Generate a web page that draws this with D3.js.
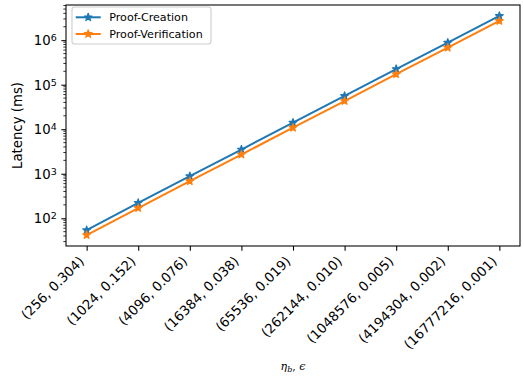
<!DOCTYPE html>
<html>
<head>
<meta charset="utf-8">
<script src="https://cdn.jsdelivr.net/npm/d3@7"></script>
<style>
body { margin:0; background:#fff; }
text { font-family: "DejaVu Sans", sans-serif; fill:#000; }
</style>
</head>
<body>
<div id="chart"></div>
<script>
// 横軸のカテゴリ (n_b, epsilon)
var categories = ["(256, 0.304)", "(1024, 0.152)", "(4096, 0.076)", "(16384, 0.038)", "(65536, 0.019)",
  "(262144, 0.010)", "(1048576, 0.005)", "(4194304, 0.002)", "(16777216, 0.001)"];
// 遅延 (ms)
var creation = [54, 222, 880, 3500, 14000, 56000, 225000, 880000, 3500000];
var verification = [42, 170, 680, 2700, 10800, 43000, 172000, 680000, 2700000];
var yTickExps = [2, 3, 4, 5, 6];

(function(){
  var W = 524, H = 377;
  var m = {left: 66, right: 4, top: 5, bottom: 131};
  var w = W - m.left - m.right, h = H - m.top - m.bottom;
  var svg = d3.select("#chart").append("svg").attr("width", W).attr("height", H);
  var g = svg.append("g").attr("transform", "translate(" + m.left + "," + m.top + ")");

  var n = categories.length;
  var x = d3.scaleLinear().domain([-0.4, n - 1 + 0.4]).range([0, w]);
  var all = creation.concat(verification);
  var lo = Math.log10(d3.min(all)), hi = Math.log10(d3.max(all)), pad = (hi - lo) * 0.05;
  var y = d3.scaleLog().domain([Math.pow(10, lo - pad), Math.pow(10, hi + pad)]).range([h, 0]);

  // x軸
  var xAxis = g.append("g").attr("transform", "translate(0," + h + ")")
    .call(d3.axisBottom(x).tickValues(d3.range(n)).tickFormat(function(i){ return categories[i]; })
      .tickSize(4.67));
  xAxis.select(".domain").remove();
  xAxis.selectAll("line").attr("stroke", "#000").attr("stroke-width", 1.07);
  xAxis.selectAll("text")
    .style("font-size", "13.3px")
    .attr("text-anchor", "end")
    .attr("x", 0).attr("y", 0).attr("dy", 0)
    .attr("transform", "translate(-2.2,16) rotate(-45)");

  // y軸 (major)
  var yAxis = g.append("g")
    .call(d3.axisLeft(y).tickValues(yTickExps.map(function(e){ return Math.pow(10, e); }))
      .tickFormat("").tickSize(4.67));
  yAxis.select(".domain").remove();
  yAxis.selectAll("line").attr("stroke", "#000").attr("stroke-width", 1.07);
  yAxis.selectAll(".tick").append("text")
    .attr("x", -9.3).attr("dy", "0.35em").attr("text-anchor", "end")
    .style("font-size", "13.3px")
    .each(function(d){
      var t = d3.select(this);
      t.append("tspan").text("10");
      t.append("tspan").attr("dy", "-0.45em").style("font-size", "9.5px").text(Math.round(Math.log10(d)));
    });

  // minor ticks
  var minor = [];
  for (var e = 1; e <= 6; e++) for (var k = 2; k <= 9; k++) {
    var v = k * Math.pow(10, e);
    if (v >= y.domain()[0] && v <= y.domain()[1]) minor.push(v);
  }
  g.append("g").selectAll("line").data(minor).enter().append("line")
    .attr("x1", -2.67).attr("x2", 0)
    .attr("y1", function(d){ return y(d); }).attr("y2", function(d){ return y(d); })
    .attr("stroke", "#000").attr("stroke-width", 0.8);

  // 枠
  g.append("rect").attr("width", w).attr("height", h)
    .attr("fill", "none").attr("stroke", "#000").attr("stroke-width", 1.07);

  var series = [
    {name: "Proof-Creation", values: creation, color: "#1f77b4"},
    {name: "Proof-Verification", values: verification, color: "#ff7f0e"}
  ];
  var line = d3.line().x(function(d, i){ return x(i); }).y(function(d){ return y(d); });
  var star = d3.symbol().type(d3.symbolStar).size(18);

  series.forEach(function(s){
    g.append("path").attr("d", line(s.values)).attr("fill", "none")
      .attr("stroke", s.color).attr("stroke-width", 2);
    g.append("g").selectAll("path").data(s.values).enter().append("path")
      .attr("d", star)
      .attr("transform", function(d, i){ return "translate(" + x(i) + "," + y(d) + ")"; })
      .attr("fill", s.color).attr("stroke", s.color).attr("stroke-width", 1.3)
      .attr("stroke-linejoin", "round");
  });

  // 凡例
  var lg = g.append("g").attr("transform", "translate(6,2)");
  lg.append("rect").attr("width", 139).attr("height", 37).attr("rx", 2.5)
    .attr("fill", "#fff").attr("fill-opacity", 0.8).attr("stroke", "#ccc").attr("stroke-width", 1.07);
  series.forEach(function(s, i){
    var yy = 10.3 + i * 16.7;
    lg.append("line").attr("x1", 3.7).attr("x2", 28.7).attr("y1", yy).attr("y2", yy)
      .attr("stroke", s.color).attr("stroke-width", 2);
    lg.append("path").attr("d", star).attr("transform", "translate(16.2," + yy + ")")
      .attr("fill", s.color).attr("stroke", s.color).attr("stroke-width", 1.3)
      .attr("stroke-linejoin", "round");
    lg.append("text").attr("x", 37.3).attr("y", yy).attr("dy", "0.35em")
      .style("font-size", "11.1px").text(s.name);
  });

  // 軸ラベル
  svg.append("text").attr("transform", "translate(22," + (m.top + h / 2) + ") rotate(-90)")
    .attr("text-anchor", "middle").style("font-size", "13.3px").text("Latency (ms)");
  var xl = svg.append("text").attr("x", m.left + w / 2).attr("y", 370)
    .attr("text-anchor", "middle").style("font-family", "'DejaVu Serif', serif")
    .style("font-style", "italic").style("font-size", "11px");
  xl.append("tspan").text("η");
  xl.append("tspan").attr("dy", "2").style("font-size", "8px").text("b");
  xl.append("tspan").attr("dy", "-2").style("font-style", "normal").text(", ");
  xl.append("tspan").text("ϵ");
})();
</script>
</body>
</html>
